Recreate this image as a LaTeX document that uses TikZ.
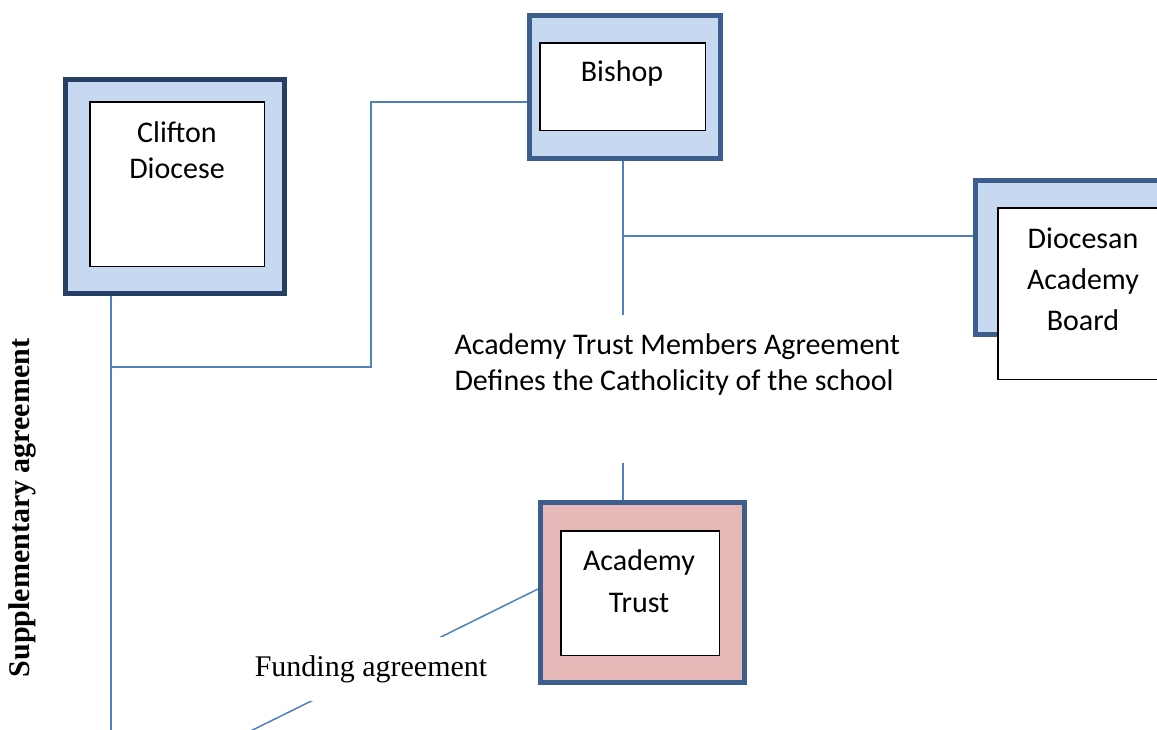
\documentclass[tikz,border=0pt]{standalone}
\usepackage{fontspec}
\setmainfont{Carlito}
\newfontfamily\timesfont{Liberation Serif}
\usepackage{tikz}
\definecolor{paleblue}{HTML}{C6D9F1}
\definecolor{palepink}{HTML}{E6B9B8}
\definecolor{rimblue}{HTML}{3B5E8C}
\definecolor{rimdark}{HTML}{263F64}
\definecolor{linkblue}{HTML}{4F81BD}

\begin{document}
\begin{tikzpicture}[x=1pt,y=-1pt,
  outerbox/.style={draw=rimblue,line width=5pt,fill=paleblue},
  innerbox/.style={draw=black,line width=1.5pt,fill=white},
  link/.style={draw=linkblue,line width=1.5pt},
  boxtext/.style={font=\fontsize{30}{36}\selectfont,align=center}]
  \useasboundingbox (0,0) rectangle (1157,729);

  % boxes
  \node[outerbox,draw=rimdark,minimum width=219,minimum height=214] (clifton) at (175,186.5) {};
  \node[innerbox,minimum width=174.5,minimum height=164.5] (cliftonIn) at (177,184) {};
  \node[outerbox,minimum width=191,minimum height=143] (bishop) at (625,87) {};
  \node[innerbox,minimum width=165.5,minimum height=87.5] (bishopIn) at (622.5,86.5) {};
  \node[outerbox,minimum width=225,minimum height=154] (board) at (1088,257.5) {};
  \node[innerbox,minimum width=174.5,minimum height=171.5] (boardIn) at (1085,293.5) {};
  \node[outerbox,fill=palepink,minimum width=204,minimum height=180] (trust) at (642.5,592.5) {};
  \node[innerbox,minimum width=158.5,minimum height=124.5] (trustIn) at (640,593) {};

  % connectors
  \coordinate (cliftonJoin) at (111,367);
  \coordinate (bishopJoin) at (623,236);
  \draw[link] (clifton.south -| cliftonJoin) -- (111,740);
  \draw[link] (bishop.west |- 0,102) -| (371,367) -- (cliftonJoin);
  \draw[link] (bishop.south -| bishopJoin) -- (623,315);
  \draw[link] (bishopJoin) -- (board.west |- bishopJoin);
  \draw[link] (623,463) -- (trust.north -| 623,0);
  \draw[link] (trust.west |- 0,589) -- (200,756);

  % texts
  \node[boxtext] (cliftonTxt) at (177,150) {Clifton\\Diocese};
  \node[boxtext] (bishopTxt) at (622,73) {Bishop};
  \node[boxtext,font=\fontsize{30}{41}\selectfont] (boardTxt) at (1083,279) {Diocesan\\Academy\\Board};
  \node[boxtext,font=\fontsize{30}{42}\selectfont] (trustTxt) at (639,581) {Academy\\Trust};
  \node[boxtext,align=left,anchor=west] (membersTxt) at (451,364)
    {Academy Trust Members Agreement\\Defines the Catholicity of the school};
  \node[fill=white,font=\timesfont\fontsize{30}{34}\selectfont,
    minimum width=255,minimum height=64] (fundingTxt) at (371,669) {Funding agreement};
  \node[rotate=90,font=\timesfont\bfseries\fontsize{30}{34}\selectfont] (suppTxt) at (22,508)
    {Supplementary agreement};
\end{tikzpicture}
\end{document}
